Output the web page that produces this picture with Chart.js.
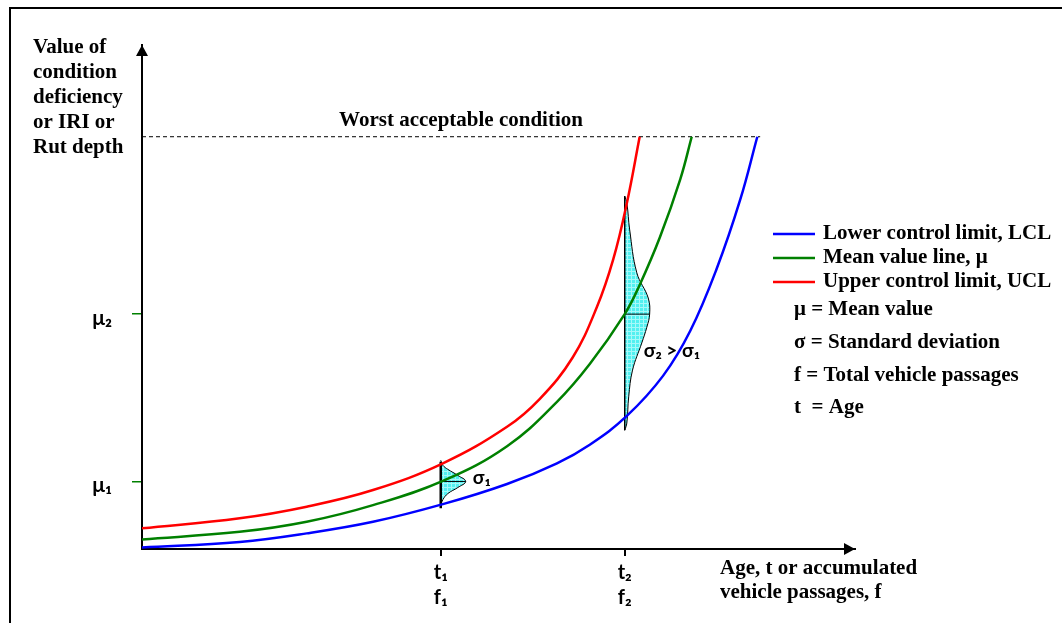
<!DOCTYPE html>
<html>
<head>
<meta charset="utf-8">
<script src="https://cdn.jsdelivr.net/npm/chart.js@4.4.0/dist/chart.umd.min.js"></script>
<style>
  html, body { margin: 0; padding: 0; background: #fff; }
</style>
</head>
<body>
<canvas id="chart" width="1062" height="623"></canvas>
<script>
// x = age / passages, y = condition value (arbitrary 0..100 units)
const lclX = [0, 13.7, 23.1, 32.4, 42.2, 51.2, 58.2, 62.8, 68.0, 73.1, 76.9, 80.6, 83.9, 86.3];
const lclY = [0.3, 1.4, 3.1, 5.4, 8.9, 12.9, 17.0, 20.7, 26.4, 34.4, 43.3, 55.6, 69.3, 81.8];

const meanX = [0, 13.7, 23.1, 32.4, 42.2, 51.2, 58.2, 62.8, 67.7, 69.8, 72.65, 75.5, 77.1];
const meanY = [1.9, 3.4, 5.4, 8.7, 13.5, 20.4, 29.2, 36.7, 46.6, 52.4, 61.9, 73.4, 81.8];

const uclX = [0, 13.7, 23.1, 32.4, 42.2, 51.2, 55.8, 60.4, 63.8, 66.1, 68.0, 69.8];
const uclY = [4.1, 6.1, 8.4, 11.7, 17.0, 24.25, 29.8, 38.0, 48.0, 57.5, 68.6, 81.8];

const worstX = [0, 86.7];
const worstY = [81.8, 81.8];

// distribution at t1
const bell1X = [41.9, 42.2, 42.9, 44.3, 45.4, 44.3, 42.9, 42.2, 41.9];
const bell1Y = [17.6, 16.6, 15.8, 14.6, 13.4, 12.2, 11.0, 9.8, 8.6];
// distribution at t2
const bell2X = [67.7, 68.0, 68.4, 69.4, 71.0, 71.2, 70.8, 70.1, 68.8, 68.26, 68.0, 67.7];
const bell2Y = [70.0, 68.7, 63.3, 54.8, 49.8, 46.6, 44.0, 40.9, 35.5, 30.2, 25.0, 23.5];

const t1LineY = [17.3, 8.1];
const t2LineY = [70.0, 23.6];

const xTickVals = [41.9, 67.7];
const xTickLabels = [["t₁", "f₁"], ["t₂", "f₂"]];
const yTickVals = [13.4, 46.6];
const yTickLabels = ["μ₁", "μ₂"];

const legendNames = ["Lower control limit, LCL", "Mean value line, μ", "Upper control limit, UCL"];
const notes = ["μ = Mean value", "σ = Standard deviation", "f = Total vehicle passages", "t  = Age"];
const yTitle = ["Value of", "condition", "deficiency", "or IRI or", "Rut depth"];
const xTitle = ["Age, t or accumulated", "vehicle passages, f"];

const SERIF = "'Liberation Serif', 'Times New Roman', serif";
const SANS = "Lato, 'Noto Sans', 'DejaVu Sans', sans-serif";

function pts(xs, ys) {
  return xs.map((x, i) => ({ x: x, y: ys[i] }));
}

function gridPattern() {
  const c = document.createElement("canvas");
  c.width = 4; c.height = 4;
  const g = c.getContext("2d");
  g.fillStyle = "#52f0f0";
  g.fillRect(0, 0, 4, 4);
  g.fillStyle = "#a6f9f9";
  g.fillRect(0, 3, 4, 1);
  g.fillRect(3, 0, 1, 4);
  return g.createPattern(c, "repeat");
}
const cyan = gridPattern();

function curve(label, xs, ys, color) {
  return {
    label: label,
    data: pts(xs, ys),
    borderColor: color,
    borderWidth: 2.5,
    pointRadius: 0,
    tension: 0.4,
    fill: false,
    order: 0
  };
}

function bell(xs, ys) {
  return {
    data: pts(xs, ys),
    borderColor: "#000",
    borderWidth: 1,
    backgroundColor: cyan,
    pointRadius: 0,
    tension: 0.4,
    fill: "shape",
    order: 2
  };
}

function plain(data, width, dash) {
  return {
    data: data,
    borderColor: "#000",
    borderWidth: width,
    borderDash: dash || [],
    pointRadius: 0,
    tension: 0,
    fill: false,
    order: 1
  };
}

const decor = {
  id: "decor",
  afterDraw(chart) {
    const ctx = chart.ctx;
    const a = chart.chartArea;
    const xs = chart.scales.x, ys = chart.scales.y;
    ctx.save();

    // outer frame
    ctx.strokeStyle = "#000";
    ctx.lineWidth = 2;
    ctx.strokeRect(10, 8, 1070, 640);

    // arrow heads
    ctx.fillStyle = "#000";
    ctx.beginPath();
    ctx.moveTo(a.left, a.top);
    ctx.lineTo(a.left - 6, a.top + 11);
    ctx.lineTo(a.left + 6, a.top + 11);
    ctx.closePath();
    ctx.fill();
    ctx.beginPath();
    ctx.moveTo(a.right, a.bottom);
    ctx.lineTo(a.right - 11, a.bottom - 6);
    ctx.lineTo(a.right - 11, a.bottom + 6);
    ctx.closePath();
    ctx.fill();

    // serif texts
    ctx.font = "bold 21px " + SERIF;
    ctx.textBaseline = "middle";
    ctx.textAlign = "left";
    yTitle.forEach((t, i) => ctx.fillText(t, 33, 48 + i * 25));
    xTitle.forEach((t, i) => ctx.fillText(t, 720, 569 + i * 24));
    ctx.textAlign = "center";
    ctx.fillText("Worst acceptable condition", 461, ys.getPixelForValue(worstY[0]) - 16);

    // legend
    ctx.textAlign = "left";
    const ds = chart.data.datasets;
    legendNames.forEach((name, i) => {
      const y = 234 + i * 24;
      ctx.strokeStyle = ds[i].borderColor;
      ctx.lineWidth = 2.5;
      ctx.beginPath();
      ctx.moveTo(773, y);
      ctx.lineTo(815, y);
      ctx.stroke();
      ctx.fillText(name, 823, y);
    });
    const noteY = [310, 343, 376, 408];
    notes.forEach((n, i) => ctx.fillText(n, 794, noteY[i]));

    // sigma labels
    ctx.font = "bold 19px " + SANS;
    ctx.fillText("σ₁", xs.getPixelForValue(xTickVals[0]) + 32, ys.getPixelForValue(yTickVals[0]) - 4);
    ctx.fillText("σ₂ > σ₁", xs.getPixelForValue(xTickVals[1]) + 19, ys.getPixelForValue(yTickVals[1]) + 37);

    ctx.restore();
  }
};

const ctx = document.getElementById("chart").getContext("2d");
new Chart(ctx, {
  type: "line",
  data: {
    datasets: [
      curve("Lower control limit, LCL", lclX, lclY, "#0000ff"),
      curve("Mean value line, μ", meanX, meanY, "#008000"),
      curve("Upper control limit, UCL", uclX, uclY, "#ff0000"),
      plain(pts(worstX, worstY), 1, [4, 3]),
      bell(bell1X, bell1Y),
      bell(bell2X, bell2Y),
      plain(pts([xTickVals[0], xTickVals[0]], t1LineY), 2.5),
      plain(pts([xTickVals[1], xTickVals[1]], t2LineY), 1),
      plain(pts([bell1X[0], bell1X[4]], [yTickVals[0], yTickVals[0]]), 1),
      plain(pts([bell2X[0], bell2X[5]], [yTickVals[1], yTickVals[1]]), 1)
    ]
  },
  options: {
    responsive: false,
    animation: false,
    events: [],
    layout: { padding: { top: 45, right: 207, left: 0, bottom: 0 } },
    plugins: {
      legend: { display: false },
      tooltip: { enabled: false }
    },
    scales: {
      x: {
        type: "linear",
        min: 0,
        max: 100,
        afterFit: (s) => { s.height = 74; },
        afterBuildTicks: (s) => { s.ticks = xTickVals.map((v) => ({ value: v })); },
        border: { display: true, color: "#000", width: 2 },
        grid: { drawOnChartArea: false, tickLength: 7, color: "#000", lineWidth: 2 },
        ticks: {
          autoSkip: false,
          maxRotation: 0,
          padding: 4,
          color: "#000",
          font: { family: SANS, size: 20, weight: "bold", lineHeight: 1.25 },
          callback: (v, i) => xTickLabels[i]
        }
      },
      y: {
        type: "linear",
        min: 0,
        max: 100,
        afterFit: (s) => { s.width = 142; },
        afterBuildTicks: (s) => { s.ticks = yTickVals.map((v) => ({ value: v })); },
        border: { display: true, color: "#000", width: 2 },
        grid: { drawOnChartArea: false, tickLength: 10, color: "#008000", lineWidth: 1.5 },
        ticks: {
          autoSkip: false,
          padding: 20,
          labelOffset: 4,
          color: "#000",
          font: { family: SANS, size: 21, weight: "bold" },
          callback: (v, i) => yTickLabels[i]
        }
      }
    }
  },
  plugins: [decor]
});
</script>
</body>
</html>
